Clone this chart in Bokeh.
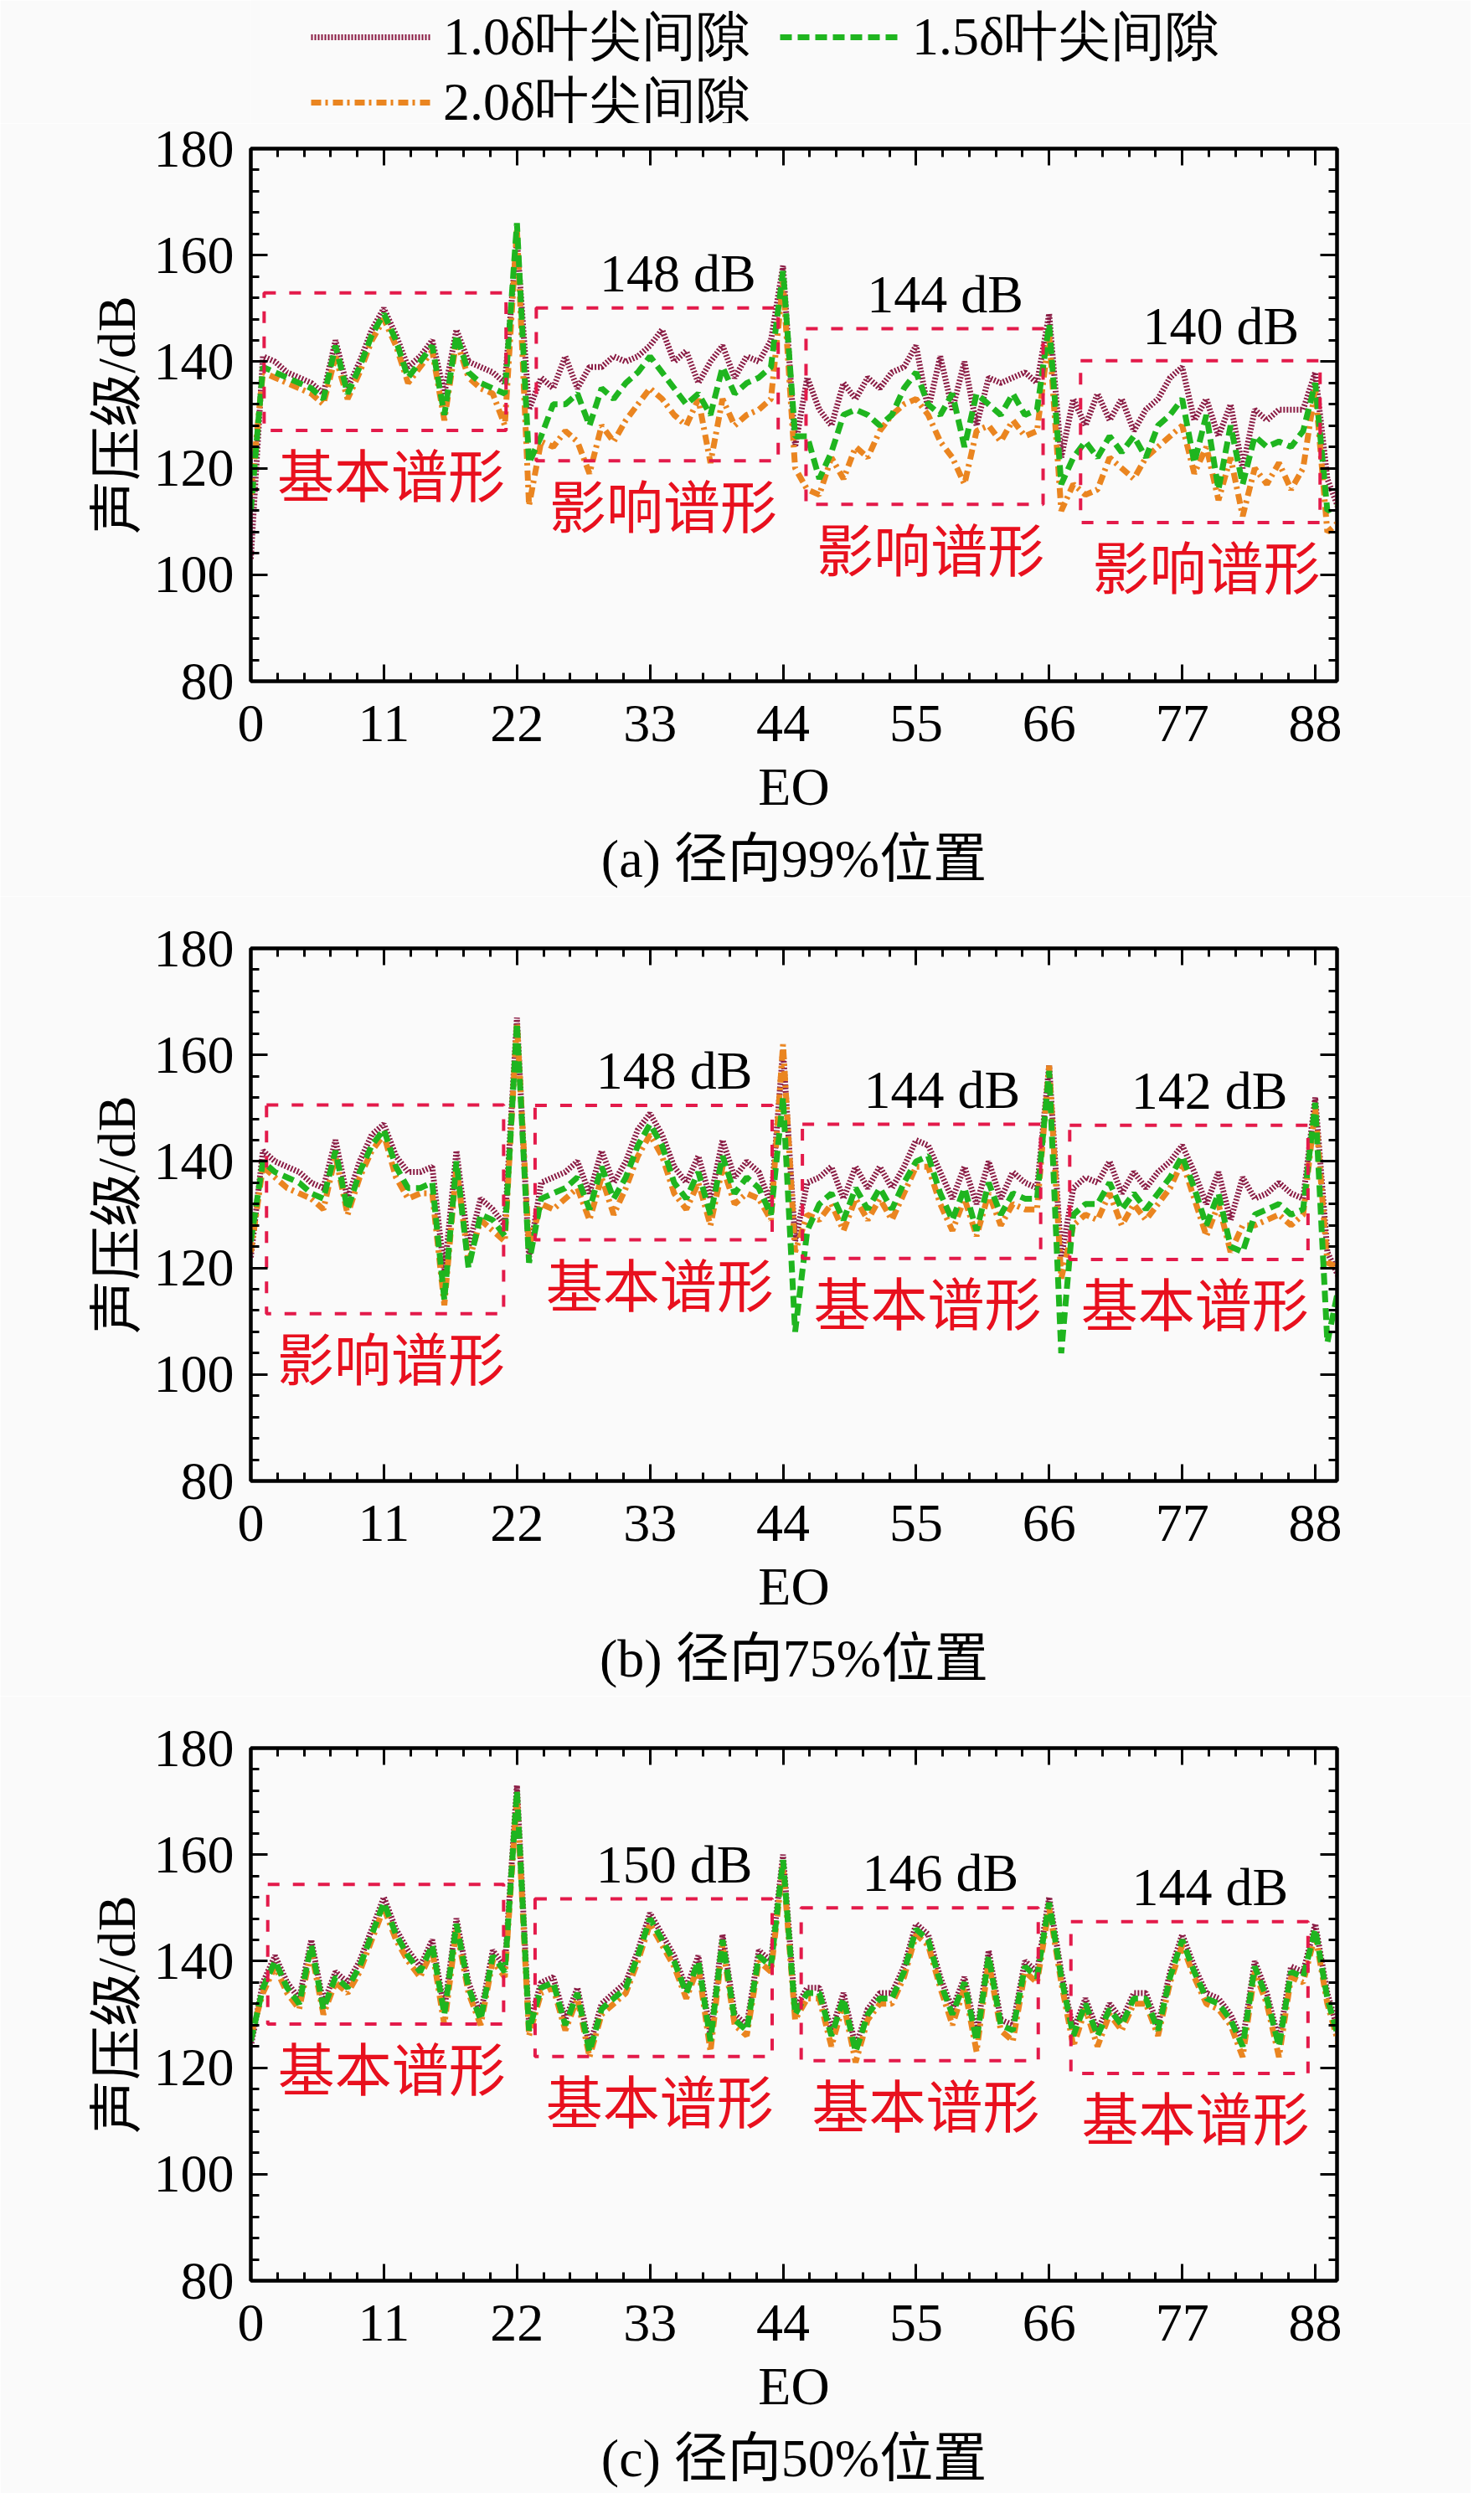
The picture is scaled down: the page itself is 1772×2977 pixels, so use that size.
from bokeh.plotting import figure
from bokeh.layouts import column
from bokeh.models import (Range1d, FixedTicker, LinearAxis, Legend, LegendItem,
                          Title, CustomJSTickFormatter, ColumnDataSource)
from bokeh.core.properties import value
from bokeh.embed import file_html
from bokeh.resources import INLINE

# ---- data ----
eo = list(range(91))

a_10 = [103, 141, 140, 138, 137, 136, 134, 144, 135, 140, 146, 150, 145, 139, 141, 144, 134, 146, 140, 139, 138, 136, 163,
        131, 137, 135, 141, 135, 139, 139, 141, 140, 141, 143, 146, 140, 142, 136, 140, 143, 137, 141, 140, 144, 158,
        124, 137, 131, 128, 136, 133, 137, 135, 138, 139, 143, 131, 141, 131, 140, 128, 137, 136, 137, 138, 136, 149,
        122, 133, 128, 134, 129, 133, 127, 131, 133, 137, 139, 129, 133, 126, 132, 120, 131, 129, 131, 131, 131, 138, 118, 112]
a_15 = [112, 139, 138, 137, 136, 135, 133, 143, 134, 139, 145, 149, 144, 137, 140, 143, 130, 145, 138, 136, 135, 134, 166,
        121, 126, 132, 132, 134, 128, 135, 133, 136, 138, 141, 138, 135, 132, 134, 130, 139, 134, 136, 137, 139, 157,
        126, 126, 118, 123, 130, 131, 130, 128, 130, 135, 138, 132, 130, 134, 124, 134, 132, 130, 134, 130, 131, 147,
        117, 122, 125, 122, 126, 123, 126, 122, 128, 130, 133, 121, 130, 116, 128, 117, 126, 124, 125, 124, 127, 136, 112, 113]
a_20 = [115, 138, 137, 136, 135, 134, 132, 141, 133, 138, 144, 148, 143, 136, 139, 142, 129, 144, 137, 135, 134, 128, 165,
        113, 125, 124, 127, 125, 119, 128, 125, 129, 132, 135, 133, 130, 128, 133, 121, 133, 128, 130, 131, 133, 155,
        120, 116, 115, 122, 118, 124, 122, 127, 130, 132, 133, 130, 125, 122, 117, 127, 128, 125, 129, 126, 127, 145,
        112, 117, 115, 116, 122, 120, 118, 122, 124, 126, 128, 119, 124, 114, 122, 111, 120, 117, 121, 116, 120, 135, 108, 110]

b_10 = [122, 142, 140, 139, 138, 136, 135, 144, 133, 140, 145, 147, 141, 138, 138, 139, 119, 142, 124, 133, 131, 128, 167,
        122, 136, 137, 138, 140, 134, 142, 136, 140, 146, 149, 145, 139, 136, 141, 133, 144, 137, 140, 138, 132, 161,
        125, 136, 137, 139, 133, 139, 135, 139, 135, 139, 144, 143, 138, 133, 139, 132, 140, 133, 138, 136, 135, 158,
        122, 135, 137, 136, 140, 134, 138, 135, 138, 140, 143, 138, 132, 138, 129, 137, 133, 134, 136, 134, 133, 152, 123, 118]
b_15 = [125, 140, 138, 137, 136, 134, 133, 142, 131, 138, 143, 146, 139, 135, 135, 136, 114, 140, 120, 130, 129, 126, 166,
        121, 133, 134, 135, 137, 131, 139, 133, 137, 143, 147, 143, 136, 133, 138, 130, 141, 134, 137, 135, 130, 152,
        108, 127, 132, 134, 129, 135, 131, 135, 131, 136, 140, 141, 134, 129, 135, 127, 136, 130, 134, 133, 133, 157,
        104, 130, 132, 132, 136, 131, 134, 131, 134, 137, 141, 135, 128, 134, 124, 123, 130, 131, 132, 130, 131, 151, 106, 117]
b_20 = [123, 139, 137, 135, 134, 133, 131, 141, 130, 137, 142, 145, 137, 133, 134, 134, 113, 139, 121, 129, 127, 125, 166,
        124, 132, 131, 133, 135, 129, 137, 130, 135, 141, 145, 141, 134, 131, 136, 128, 139, 132, 134, 133, 129, 162,
        123, 130, 129, 132, 127, 133, 129, 133, 129, 134, 139, 139, 132, 127, 133, 126, 134, 128, 132, 131, 131, 158,
        118, 128, 130, 129, 134, 128, 132, 129, 132, 135, 140, 133, 126, 132, 123, 128, 128, 129, 130, 128, 130, 150, 121, 120]

c_10 = [124, 136, 141, 136, 133, 144, 132, 138, 136, 140, 146, 152, 146, 142, 139, 144, 131, 148, 136, 130, 142, 139, 173,
        128, 136, 137, 129, 135, 124, 132, 134, 136, 142, 149, 145, 141, 135, 141, 126, 145, 130, 128, 142, 140, 160,
        131, 135, 135, 127, 134, 124, 131, 134, 134, 139, 147, 145, 137, 131, 137, 126, 142, 129, 128, 140, 138, 152,
        138, 127, 133, 127, 132, 129, 134, 134, 128, 138, 145, 139, 134, 133, 130, 125, 140, 134, 125, 139, 138, 147, 134, 126]
c_15 = [125, 135, 140, 135, 132, 143, 131, 137, 135, 139, 145, 151, 145, 141, 138, 143, 130, 147, 135, 129, 141, 138, 172,
        127, 135, 136, 128, 134, 123, 131, 133, 135, 141, 148, 144, 140, 134, 140, 125, 144, 129, 127, 141, 139, 159,
        130, 134, 134, 126, 133, 123, 130, 133, 133, 138, 146, 144, 136, 130, 136, 125, 141, 128, 127, 139, 137, 151,
        137, 126, 132, 126, 131, 128, 133, 133, 127, 137, 144, 138, 133, 132, 129, 124, 139, 133, 124, 138, 137, 146, 133, 125]
c_20 = [126, 134, 139, 134, 131, 142, 130, 136, 134, 138, 144, 150, 144, 140, 137, 142, 128, 146, 134, 128, 140, 137, 171,
        126, 134, 135, 127, 133, 122, 130, 132, 134, 140, 147, 143, 139, 133, 139, 123, 143, 128, 126, 140, 138, 158,
        129, 133, 133, 124, 132, 121, 129, 132, 132, 137, 145, 143, 135, 128, 135, 123, 140, 127, 125, 138, 136, 150,
        136, 124, 131, 124, 130, 127, 132, 132, 126, 136, 143, 137, 132, 131, 128, 122, 138, 132, 122, 137, 136, 145, 132, 124]

# dashed boxes marking the spectrum shapes
a_left, a_right = [1.1, 23.6, 45.9, 68.6], [21.1, 43.6, 65.5, 88.4]
a_top, a_bottom = [152.9, 150.1, 146.2, 140.2], [127.1, 121.4, 113.2, 109.8]
b_left, b_right = [1.3, 23.5, 45.6, 67.7], [20.9, 43.1, 65.3, 87.4]
b_top, b_bottom = [150.6, 150.5, 147.0, 146.8], [111.4, 125.3, 121.8, 121.6]
c_left, c_right = [1.4, 23.5, 45.5, 67.8], [20.9, 43.1, 65.1, 87.4]
c_top, c_bottom = [154.4, 151.7, 150.0, 147.4], [128.2, 122.1, 121.3, 118.9]

a_shapes = ["基本谱形", "影响谱形", "影响谱形", "影响谱形"]
b_shapes = ["影响谱形", "基本谱形", "基本谱形", "基本谱形"]
c_shapes = ["基本谱形", "基本谱形", "基本谱形", "基本谱形"]
a_peaks = ["", "148 dB", "144 dB", "140 dB"]
b_peaks = ["", "148 dB", "144 dB", "142 dB"]
c_peaks = ["", "150 dB", "146 dB", "144 dB"]

series_names = ["1.0δ叶尖间隙", "1.5δ叶尖间隙", "2.0δ叶尖间隙"]
x_ticks = [0, 11, 22, 33, 44, 55, 66, 77, 88]
y_ticks = [80, 100, 120, 140, 160, 180]

SERIF = "'Liberation Serif', 'Noto Sans CJK SC'"
BG = "#fafafa"
BOX_RED = "#e31a4a"
TEXT_RED = "#e8101e"
STYLE_10 = dict(line_color="#8a1c44", line_width=7, line_dash="2 2")
STYLE_15 = dict(line_color="#1fb51f", line_width=7, line_dash="14 7")
STYLE_20 = dict(line_color="#ea8520", line_width=7, line_dash="12 5 3 6")


def style_axis(ax):
    ax.axis_line_width = 4
    ax.axis_line_color = "black"
    ax.major_tick_in = 20
    ax.major_tick_out = 0
    ax.major_tick_line_width = 3
    ax.minor_tick_in = 10
    ax.minor_tick_out = 0
    ax.minor_tick_line_width = 3
    ax.major_label_text_font = "Liberation Serif"
    ax.major_label_text_font_size = "64px"
    ax.major_label_text_color = "black"
    ax.axis_label_text_font = SERIF
    ax.axis_label_text_font_size = "64px"
    ax.axis_label_text_font_style = "normal"
    ax.axis_label_text_color = "black"


def make_legend_strip():
    # a thin figure that only carries the shared legend above panel (a);
    # its lines are panel (a)'s series, kept outside this strip's ranges
    p = figure(frame_width=1297, frame_height=147, x_range=Range1d(0, 1), y_range=Range1d(0, 1),
               output_backend="svg", toolbar_location=None,
               x_axis_location=None, y_axis_location=None,
               min_border_left=299, min_border_right=160, min_border_top=0, min_border_bottom=0,
               background_fill_color=BG, border_fill_color=BG, outline_line_color=None)
    p.grid.visible = False
    r10 = p.line(eo, a_10, **STYLE_10)
    r15 = p.line(eo, a_15, **STYLE_15)
    r20 = p.line(eo, a_20, **STYLE_20)
    common = dict(orientation="horizontal", glyph_width=143, glyph_height=20,
                  label_standoff=15, label_width=386, spacing=16, padding=0, margin=0,
                  label_text_font="Liberation Serif", label_text_font_size="64px",
                  label_text_color="black", background_fill_alpha=0, border_line_color=None)
    row1 = Legend(items=[LegendItem(label=series_names[0], renderers=[r10]),
                         LegendItem(label=series_names[1], renderers=[r15])],
                  location=(72, 60), **common)
    row2 = Legend(items=[LegendItem(label=series_names[2], renderers=[r20])],
                  location=(72, -18), **common)
    p.add_layout(row1, "center")
    p.add_layout(row2, "center")
    return p


def make_panel(y10, y15, y20, left, right, top, bottom, shapes, peaks, caption,
               border_top, border_bottom):
    xt = FixedTicker(ticks=x_ticks, minor_ticks=[round(i * 2.2, 1) for i in range(41)])
    yt = FixedTicker(ticks=y_ticks, minor_ticks=list(range(80, 181, 4)))
    p = figure(frame_width=1297, frame_height=636,
               x_range=Range1d(0, 89.8), y_range=Range1d(80, 180),
               output_backend="svg", toolbar_location=None,
               min_border_left=299, min_border_right=160,
               min_border_top=border_top, min_border_bottom=border_bottom,
               background_fill_color=BG, border_fill_color=BG)
    p.grid.visible = False
    p.outline_line_color = "black"
    p.outline_line_width = 4

    p.xaxis.ticker = xt
    p.yaxis.ticker = yt
    p.xaxis.axis_label = "EO"
    p.yaxis.axis_label = "声压级/dB"
    for ax in p.xaxis + p.yaxis:
        style_axis(ax)
    p.xaxis.major_label_standoff = 29
    p.xaxis.axis_label_standoff = 16
    p.yaxis.major_label_standoff = 20
    p.yaxis.axis_label_standoff = 6

    blank = CustomJSTickFormatter(code="return ''")
    top_ax = LinearAxis(ticker=xt, formatter=blank, major_label_standoff=0)
    right_ax = LinearAxis(ticker=yt, formatter=blank, major_label_standoff=0)
    style_axis(top_ax)
    style_axis(right_ax)
    p.add_layout(top_ax, "above")
    p.add_layout(right_ax, "right")

    p.line(eo, y10, **STYLE_10)
    p.line(eo, y20, **STYLE_20)
    p.line(eo, y15, **STYLE_15)

    p.quad(left=left, right=right, top=top, bottom=bottom, fill_color=None,
           line_color=BOX_RED, line_width=4, line_dash="14 16")

    centers = [(l + r) / 2 for l, r in zip(left, right)]
    peak_src = ColumnDataSource(dict(x=[c + 1.7 for c in centers],
                                     y=[t + 6.5 for t in top], text=peaks))
    p.text(x="x", y="y", text="text", source=peak_src, text_align="center",
           text_baseline="alphabetic", text_font=value("Liberation Serif"),
           text_font_size="64px", text_color="black")
    shape_src = ColumnDataSource(dict(x=[c + 0.5 for c in centers],
                                      y=[b - 8 for b in bottom], text=shapes))
    p.text(x="x", y="y", text="text", source=shape_src, text_align="center",
           text_baseline="middle", text_font=value("Noto Sans CJK SC"),
           text_font_size="68px", text_color=TEXT_RED)

    cap = Title(text=caption, align="center", text_font=SERIF, text_font_size="64px",
                text_font_style="normal", text_color="black", standoff=20)
    p.add_layout(cap, "below")
    return p


strip = make_legend_strip()
pa = make_panel(a_10, a_15, a_20, a_left, a_right, a_top, a_bottom, a_shapes, a_peaks,
                "(a) 径向99%位置", 30, 250)
pb = make_panel(b_10, b_15, b_20, b_left, b_right, b_top, b_bottom, b_shapes, b_peaks,
                "(b) 径向75%位置", 62, 250)
pc = make_panel(c_10, c_15, c_20, c_left, c_right, c_top, c_bottom, c_shapes, c_peaks,
                "(c) 径向50%位置", 62, 242)

page = column(strip, pa, pb, pc, spacing=0)
open("out.html", "w").write(file_html(page, INLINE))
